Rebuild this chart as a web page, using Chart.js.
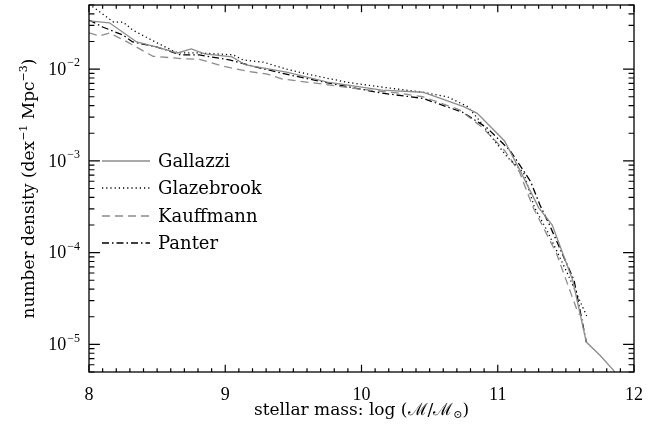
<!DOCTYPE html>
<html>
<head>
<meta charset="utf-8">
<script src="https://cdn.jsdelivr.net/npm/chart.js@4/dist/chart.umd.min.js"></script>
<style>
  html, body { margin: 0; padding: 0; background: #fff; }
  canvas { display: block; }
</style>
</head>
<body>
<canvas id="massFunction" width="658" height="427"></canvas>
<script>
// values (log stellar mass vs number density)
const massGallazzi = [8.0, 8.15, 8.35, 8.5, 8.65, 8.75, 8.85, 9.05, 9.15, 9.45, 9.75, 10.15, 10.45, 10.75, 10.85, 11.05, 11.15, 11.3, 11.4, 11.55, 11.65, 11.75, 11.85, 11.95];
const densGallazzi = [0.0335, 0.032, 0.0198, 0.0174, 0.015, 0.0166, 0.0147, 0.0136, 0.0111, 0.0093, 0.0072, 0.0059, 0.0056, 0.0039, 0.0033, 0.00165, 0.00086, 0.00031, 0.0002, 0.00005, 0.0000106, 0.0000076, 0.0000052, 0.000003];

const massGlazebrook = [8.0, 8.08, 8.18, 8.25, 8.32, 8.5, 8.65, 8.81, 9.06, 9.13, 9.28, 9.47, 9.64, 9.89, 10.14, 10.45, 10.63, 10.78, 10.87, 10.97, 11.07, 11.19, 11.27, 11.36, 11.51, 11.66];
const densGlazebrook = [0.051, 0.042, 0.0326, 0.0326, 0.0267, 0.0193, 0.015, 0.015, 0.0143, 0.0126, 0.0119, 0.0098, 0.0086, 0.0072, 0.0064, 0.0056, 0.005, 0.0039, 0.0027, 0.0017, 0.0011, 0.00074, 0.00031, 0.000176, 0.00006, 0.0000193];

const massKauffmann = [8.0, 8.08, 8.15, 8.28, 8.47, 8.69, 8.81, 8.98, 9.16, 9.31, 9.42, 9.64, 10.01, 10.26, 10.45, 10.72, 10.89, 11.05, 11.16, 11.26, 11.43, 11.58, 11.6];
const densKauffmann = [0.0248, 0.023, 0.0248, 0.0198, 0.0138, 0.013, 0.0128, 0.0108, 0.0095, 0.0088, 0.0078, 0.0071, 0.006, 0.0055, 0.005, 0.0036, 0.0023, 0.0013, 0.00075, 0.00031, 0.000099, 0.000024, 0.000021];

const massPanter = [8.0, 8.1, 8.25, 8.32, 8.5, 8.67, 8.81, 9.03, 9.23, 9.48, 9.77, 10.14, 10.45, 10.74, 10.92, 11.09, 11.24, 11.31, 11.38, 11.56, 11.65];
const densPanter = [0.0343, 0.0288, 0.0235, 0.0198, 0.0174, 0.0143, 0.0143, 0.0126, 0.0105, 0.0086, 0.007, 0.0055, 0.0048, 0.0034, 0.0023, 0.0013, 0.0006, 0.00033, 0.0002, 0.00005, 0.0000106];

const xTickLabels = [8, 9, 10, 11, 12];
const yTickExponents = [-2, -3, -4, -5];
const seriesNames = ["Gallazzi", "Glazebrook", "Kauffmann", "Panter"];

const GRAY = "#8c8c8c";
const styles = [
  { color: GRAY, dash: [] },
  { color: "#000", dash: [1.2, 3] },
  { color: GRAY, dash: [8, 5] },
  { color: "#000", dash: [7, 3, 1.5, 3] },
];

function toPoints(xs, ys) {
  return xs.map((m, i) => ({ x: m, y: ys[i] }));
}

const seriesData = [
  toPoints(massGallazzi, densGallazzi),
  toPoints(massGlazebrook, densGlazebrook),
  toPoints(massKauffmann, densKauffmann),
  toPoints(massPanter, densPanter),
];

const SERIF = "'DejaVu Serif', serif";
const NUMFONT = "'Liberation Serif', serif";

// draws a string made of pieces (some smaller and raised/lowered), centred on cx
function drawRich(ctx, parts, cx, cy) {
  let total = 0;
  parts.forEach((p) => {
    ctx.font = p.font;
    p.w = ctx.measureText(p.t).width;
    total += p.w;
  });
  let x = cx - total / 2;
  parts.forEach((p) => {
    ctx.font = p.font;
    ctx.fillText(p.t, x, cy + (p.dy || 0));
    x += p.w;
  });
}

// IDL style frame: inward ticks on all four sides, labels, titles, legend
const framePlugin = {
  id: "frame",
  afterDraw(chart) {
    const ctx = chart.ctx;
    const { left, right, top, bottom } = chart.chartArea;
    const xs = chart.scales.x;
    const ys = chart.scales.y;
    const xMajor = 0.02 * (bottom - top);
    const yMajor = 0.02 * (right - left);

    ctx.save();
    ctx.strokeStyle = "#000";
    ctx.fillStyle = "#000";
    ctx.lineWidth = 1.3;
    ctx.setLineDash([]);
    ctx.strokeRect(left, top, right - left, bottom - top);

    ctx.lineWidth = 1.2;
    ctx.beginPath();
    for (let i = 0; i <= 40; i++) {
      const px = xs.getPixelForValue(8 + i / 10);
      const len = i % 10 === 0 ? xMajor : xMajor / 2;
      ctx.moveTo(px, bottom);
      ctx.lineTo(px, bottom - len);
      ctx.moveTo(px, top);
      ctx.lineTo(px, top + len);
    }
    for (let e = -6; e <= -2; e++) {
      for (let k = 1; k <= 9; k++) {
        const v = k * Math.pow(10, e);
        if (v < ys.min * 0.999 || v > ys.max * 1.001) continue;
        const py = ys.getPixelForValue(v);
        const len = k === 1 ? yMajor : yMajor / 2;
        ctx.moveTo(left, py);
        ctx.lineTo(left + len, py);
        ctx.moveTo(right, py);
        ctx.lineTo(right - len, py);
      }
    }
    ctx.stroke();

    // x tick labels
    ctx.textBaseline = "middle";
    ctx.textAlign = "center";
    ctx.font = "18px " + NUMFONT;
    xTickLabels.forEach((t) => {
      ctx.fillText(String(t), xs.getPixelForValue(t), bottom + 23);
    });

    // y tick labels 10^n
    ctx.textAlign = "left";
    yTickExponents.forEach((e) => {
      const py = ys.getPixelForValue(Math.pow(10, e));
      ctx.font = "12px " + NUMFONT;
      const expText = "\u2212" + Math.abs(e);
      const we = ctx.measureText(expText).width;
      ctx.fillText(expText, 80 - we, py - 6);
      ctx.font = "18px " + NUMFONT;
      const wb = ctx.measureText("10").width;
      ctx.fillText("10", 80 - we - wb - 1, py + 1);
    });

    // x axis title
    drawRich(ctx, [
      { t: "stellar mass: log (\u2133/\u2133", font: "17px " + SERIF },
      { t: "\u2299", font: "11px " + SERIF, dy: 4 },
      { t: ")", font: "17px " + SERIF },
    ], (left + right) / 2, 411);

    // y axis title
    ctx.save();
    ctx.translate(30, (top + bottom) / 2);
    ctx.rotate(-Math.PI / 2);
    drawRich(ctx, [
      { t: "number density (dex", font: "17px " + SERIF },
      { t: "\u22121", font: "11px " + SERIF, dy: -6 },
      { t: " Mpc", font: "17px " + SERIF },
      { t: "\u22123", font: "11px " + SERIF, dy: -6 },
      { t: ")", font: "17px " + SERIF },
    ], 0, 0);
    ctx.restore();

    // legend
    const rows = [161, 188, 216, 243];
    seriesNames.forEach((name, i) => {
      ctx.strokeStyle = styles[i].color;
      ctx.setLineDash(styles[i].dash);
      ctx.lineWidth = 1.3;
      ctx.beginPath();
      ctx.moveTo(102, rows[i]);
      ctx.lineTo(150, rows[i]);
      ctx.stroke();
      ctx.setLineDash([]);
      ctx.fillStyle = "#000";
      ctx.font = "18px " + SERIF;
      ctx.textAlign = "left";
      ctx.fillText(name, 158, rows[i] + 1);
    });
    ctx.restore();
  },
};

new Chart(document.getElementById("massFunction"), {
  type: "line",
  data: {
    datasets: seriesNames.map((name, i) => ({
      label: name,
      data: seriesData[i],
      borderColor: styles[i].color,
      borderDash: styles[i].dash,
      borderWidth: 1.3,
      pointRadius: 0,
      tension: 0,
      fill: false,
    })),
  },
  options: {
    responsive: false,
    animation: false,
    devicePixelRatio: 1,
    layout: { padding: { left: 89, right: 24, top: 5, bottom: 55 } },
    plugins: { legend: { display: false }, tooltip: { enabled: false } },
    scales: {
      x: { type: "linear", min: 8, max: 12, display: false },
      y: { type: "logarithmic", min: 5e-6, max: 5e-2, display: false },
    },
  },
  plugins: [framePlugin],
});
</script>
</body>
</html>
